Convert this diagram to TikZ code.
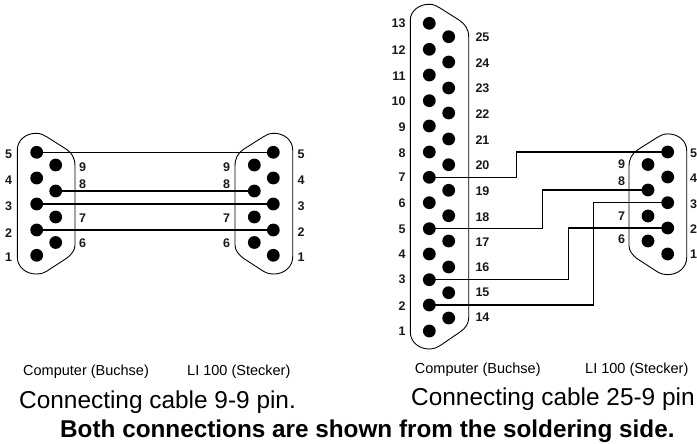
\documentclass[tikz,border=0pt]{standalone}
\usepackage{fontspec}
\setmainfont{Liberation Sans}
\tikzset{
  pinball/.style={circle,fill=black,inner sep=0pt,minimum size=12.8pt},
  shell/.style={line width=0.9pt,black},
  wire/.style={line width=1.5pt,black},
  num/.style={font=\fontsize{12.5}{12.5}\selectfont\bfseries,inner sep=0pt,text=black!90},
  captext/.style={font=\fontsize{14.5}{16}\selectfont,inner sep=0pt,anchor=base west},
  titletext/.style={font=\fontsize{24.4}{26}\selectfont,inner sep=0pt,anchor=base west},
  notetext/.style={font=\fontsize{24.3}{26}\selectfont\bfseries,inner sep=0pt,anchor=base west}
}
\newcommand{\shellnine}{%
  (17.3,150) .. controls (17.3,140) and (26,133.3) .. (36,133.3)
  .. controls (41,133.3) and (44,135) .. (47,137) -- (66,149)
  .. controls (72,153) and (75,158) .. (75,166) -- (75,245)
  .. controls (75,250) and (72,254) .. (67,258) -- (47,271)
  .. controls (43,273.5) and (40,274) .. (36,274)
  .. controls (26,274) and (17.3,267) .. (17.3,257) -- cycle}
\begin{document}
\begin{tikzpicture}[x=1pt,y=-1pt]
\useasboundingbox (0,0) rectangle (697,444);
% left 9-pin
\draw[shell] \shellnine;
\foreach \n/\y in {5/152.3,4/178,3/204,2/230,1/255.3}
  \node[pinball] (a\n) at (36.7,\y) {};
\foreach \n/\y in {9/165,8/191,7/217,6/242.5}
  \node[pinball] (a\n) at (55.7,\y) {};
\foreach \n/\y in {5/154,4/179.7,3/206.7,2/232.7,1/257}
  \node[num] (la\n) at (8.5,\y) {\n};
\foreach \n/\y in {9/166.7,8/183.7,7/218.3,6/242.7}
  \node[num] (la\n) at (82.7,\y) {\n};
% middle 9-pin
\begin{scope}[xshift=310pt,xscale=-1]
\draw[shell] \shellnine;
\end{scope}
\foreach \n/\y in {5/152.3,4/178,3/204,2/230,1/255.3}
  \node[pinball] (b\n) at (273.3,\y) {};
\foreach \n/\y in {9/165,8/191,7/217,6/242.5}
  \node[pinball] (b\n) at (254.3,\y) {};
\foreach \n/\y in {5/154,4/179.7,3/206.7,2/232,1/257}
  \node[num] (lb\n) at (301,\y) {\n};
\foreach \n/\y in {9/167,8/184,7/218,6/243.5}
  \node[num] (lb\n) at (226.7,\y) {\n};
\foreach \n in {5,8,3,2}
  \draw[wire] (a\n.center) -- (b\n.center);
% 25-pin
\draw[shell] (410.3,20) .. controls (410.3,11) and (419,4.3) .. (429,4.3)
  .. controls (434,4.3) and (437,6) .. (440,8) -- (459,20)
  .. controls (465,24) and (468.7,29) .. (468.7,37) -- (468.7,318)
  .. controls (468.7,323) and (466,328) .. (460,332) -- (441,345)
  .. controls (437,347.5) and (434,349) .. (429,349)
  .. controls (419,349) and (410.3,342) .. (410.3,332) -- cycle;
\foreach \n/\y in {13/23.3,12/49.3,11/75,10/100.7,9/126,8/152,7/177.3,6/202.7,5/228.7,4/254,3/279.7,2/305,1/331}
  \node[pinball] (c\n) at (429.3,\y) {};
\foreach \n/\y in {25/36.7,24/62,23/88,22/113,21/139,20/164.7,19/190.3,18/215.7,17/241,16/267,15/292.7,14/318}
  \node[pinball] (c\n) at (448.7,\y) {};
\foreach \n/\y in {13/23,12/50,11/76,10/100.7,9/126.7,8/152.7,7/177,6/203,5/229,4/254,3/279.7,2/305.7,1/331}
  \node[num,anchor=east] (lc\n) at (405.7,\y) {\n};
\foreach \n/\y in {25/36.7,24/62.7,23/88.7,22/114,21/139.7,20/164.7,19/190.7,18/216.7,17/241.7,16/266.7,15/292.7,14/317}
  \node[num,anchor=west] (lc\n) at (475.3,\y) {\n};
% far-right 9-pin
\begin{scope}[xshift=704pt,xscale=-1,yshift=-0.6pt]
\draw[shell] \shellnine;
\end{scope}
\foreach \n/\y in {5/152,4/177,3/202.7,2/228,1/254}
  \node[pinball] (d\n) at (667.7,\y) {};
\foreach \n/\y in {9/164.5,8/190,7/216,6/241}
  \node[pinball] (d\n) at (648,\y) {};
\foreach \n/\y in {5/153,4/178,3/204,2/229,1/254}
  \node[num,anchor=west] (ld\n) at (689.8,\y) {\n};
\foreach \n/\y in {9/164.3,8/181,7/216,6/239}
  \node[num] (ld\n) at (621.7,\y) {\n};
% wires
\coordinate (w1) at (516.7,165);
\coordinate (w2) at (542.3,210);
\coordinate (w3) at (568.3,250);
\coordinate (w4) at (593.3,250);
\draw[wire] (c7.center) -| (w1) |- (d5.center);
\draw[wire] (c5.center) -| (w2) |- (d8.center);
\draw[wire] (c3.center) -| (w3) |- (d2.center);
\draw[wire] (c2.center) -| (w4) |- (d3.center);
% captions
\node[captext] (t1) at (23,375) {Computer (Buchse)};
\node[captext] (t2) at (187,375) {LI 100 (Stecker)};
\node[captext] (t3) at (414.7,373.5) {Computer (Buchse)};
\node[captext] (t4) at (585,373.5) {LI 100 (Stecker)};
\node[titletext] (t5) at (19,408) {Connecting cable 9-9 pin.};
\node[titletext] (t6) at (411,405) {Connecting cable 25-9 pin};
\node[notetext] (t7) at (60,437.7) {Both connections are shown from the soldering side.};
\end{tikzpicture}
\end{document}
